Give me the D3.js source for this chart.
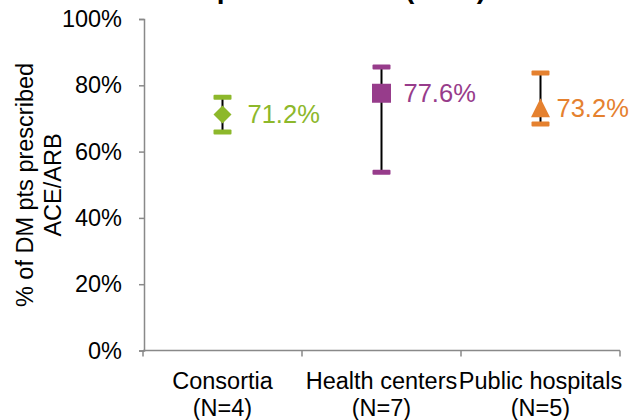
<!DOCTYPE html>
<html>
<head>
<meta charset="utf-8">
<script src="https://cdnjs.cloudflare.com/ajax/libs/d3/7.8.5/d3.min.js"></script>
<style>
  body { margin: 0; background: #fff; }
  svg { display: block; font-family: Arial, "Liberation Sans", sans-serif; }
</style>
</head>
<body>
<svg id="chart" width="642" height="420"></svg>
<script>
// data
const categories = ['Consortia', 'Health centers', 'Public hospitals'];
const counts = ['(N=4)', '(N=7)', '(N=5)'];
const means = [0.712, 0.776, 0.732];
const lows = [0.659, 0.538, 0.683];
const highs = [0.764, 0.855, 0.837];
const yTicks = [0, 0.2, 0.4, 0.6, 0.8, 1.0];

// styles
const colors = ['#8DB82B', '#973C8B', '#E5812F'];
const labelDx = [25, 22, 16];

// marker shapes drawn around (0,0), bounding box centred
const diamond = { draw(ctx, r) { ctx.moveTo(0, -r); ctx.lineTo(r, 0); ctx.lineTo(0, r); ctx.lineTo(-r, 0); ctx.closePath(); } };
const square = { draw(ctx, r) { ctx.rect(-r, -r, 2 * r, 2 * r); } };
const triangle = { draw(ctx, r) { ctx.moveTo(0, -r); ctx.lineTo(r, r); ctx.lineTo(-r, r); ctx.closePath(); } };
const shapes = [diamond, square, triangle];
const shapeR = [9, 9.5, 9.5];

const svg = d3.select('#chart');
const margin = { left: 144, right: 22, top: 19, bottom: 70 };
const W = 642, H = 420;
const axisColor = '#898989';

const x = d3.scaleBand()
  .domain(categories)
  .range([margin.left - 1, W - margin.right])
  .padding(0);

const y = d3.scaleLinear()
  .domain([0, 1])
  .range([H - margin.bottom + 0.5, margin.top]);

// cut-off title at the very top
svg.append('text')
  .attr('x', 486)
  .attr('y', -2)
  .attr('text-anchor', 'end')
  .attr('font-size', 28)
  .attr('font-weight', 'bold')
  .attr('fill', '#000')
  .text('ACE/ARB Compliance Rates (2012)');

// y axis
const yAxis = svg.append('g')
  .attr('transform', `translate(${margin.left}, 0)`)
  .call(d3.axisLeft(y).tickValues(yTicks).tickFormat(d3.format('.0%')).tickSize(5).tickPadding(17));
yAxis.selectAll('path, line').attr('stroke', axisColor).attr('stroke-width', 1.5);
yAxis.selectAll('text').attr('font-size', 23.5).attr('fill', '#000').attr('font-family', 'Arial, "Liberation Sans", sans-serif');

// x axis
const xAxis = svg.append('g')
  .attr('transform', `translate(0, ${y(0)})`)
  .call(d3.axisBottom(x).tickSize(0).tickFormat(''));
xAxis.select('path').attr('d', `M${x.range()[0]},0H${x.range()[1]}`)
  .attr('stroke', axisColor).attr('stroke-width', 1.5);
// tick marks at band edges
const edges = categories.map(c => x(c)).concat([x.range()[1]]);
xAxis.selectAll('line.edge')
  .data(edges)
  .join('line')
  .attr('class', 'edge')
  .attr('x1', d => d).attr('x2', d => d)
  .attr('y1', 0).attr('y2', 6)
  .attr('stroke', axisColor).attr('stroke-width', 1.5);

// category labels
const catLabels = svg.append('g');
categories.forEach((c, i) => {
  const t = catLabels.append('text')
    .attr('text-anchor', 'middle')
    .attr('font-size', 23.5)
    .attr('fill', '#000');
  t.append('tspan').attr('x', x(c) + x.bandwidth() / 2).attr('y', 389).text(c);
  t.append('tspan').attr('x', x(c) + x.bandwidth() / 2).attr('y', 416).text(counts[i]);
});

// y axis title
const yTitle = svg.append('text')
  .attr('transform', 'translate(0, 185) rotate(-90)')
  .attr('text-anchor', 'middle')
  .attr('font-size', 23.5)
  .attr('fill', '#000');
yTitle.append('tspan').attr('x', 0).attr('y', 33).text('% of DM pts prescribed');
yTitle.append('tspan').attr('x', 0).attr('y', 61).text('ACE/ARB');

// error bars and points
const groups = svg.append('g')
  .selectAll('g')
  .data(categories)
  .join('g')
  .attr('transform', c => `translate(${x(c) + x.bandwidth() / 2}, 0)`);

groups.append('line')
  .attr('y1', (c, i) => y(lows[i]))
  .attr('y2', (c, i) => y(highs[i]))
  .attr('stroke', '#000')
  .attr('stroke-width', 2);

groups.append('rect')
  .attr('x', -9).attr('width', 18)
  .attr('y', (c, i) => y(highs[i]) - 2.5).attr('height', 5)
  .attr('rx', 1)
  .attr('fill', (c, i) => colors[i]);

groups.append('rect')
  .attr('x', -9).attr('width', 18)
  .attr('y', (c, i) => y(lows[i]) - 2.5).attr('height', 5)
  .attr('rx', 1)
  .attr('fill', (c, i) => colors[i]);

groups.append('path')
  .attr('d', (c, i) => {
    const p = d3.path();
    shapes[i].draw(p, shapeR[i]);
    return p.toString();
  })
  .attr('transform', (c, i) => `translate(0, ${y(means[i])})`)
  .attr('fill', (c, i) => colors[i]);

groups.append('text')
  .attr('x', (c, i) => labelDx[i])
  .attr('y', (c, i) => y(means[i]) + 9)
  .attr('font-size', 25.5)
  .attr('fill', (c, i) => colors[i])
  .text((c, i) => d3.format('.1%')(means[i]));
</script>
</body>
</html>
